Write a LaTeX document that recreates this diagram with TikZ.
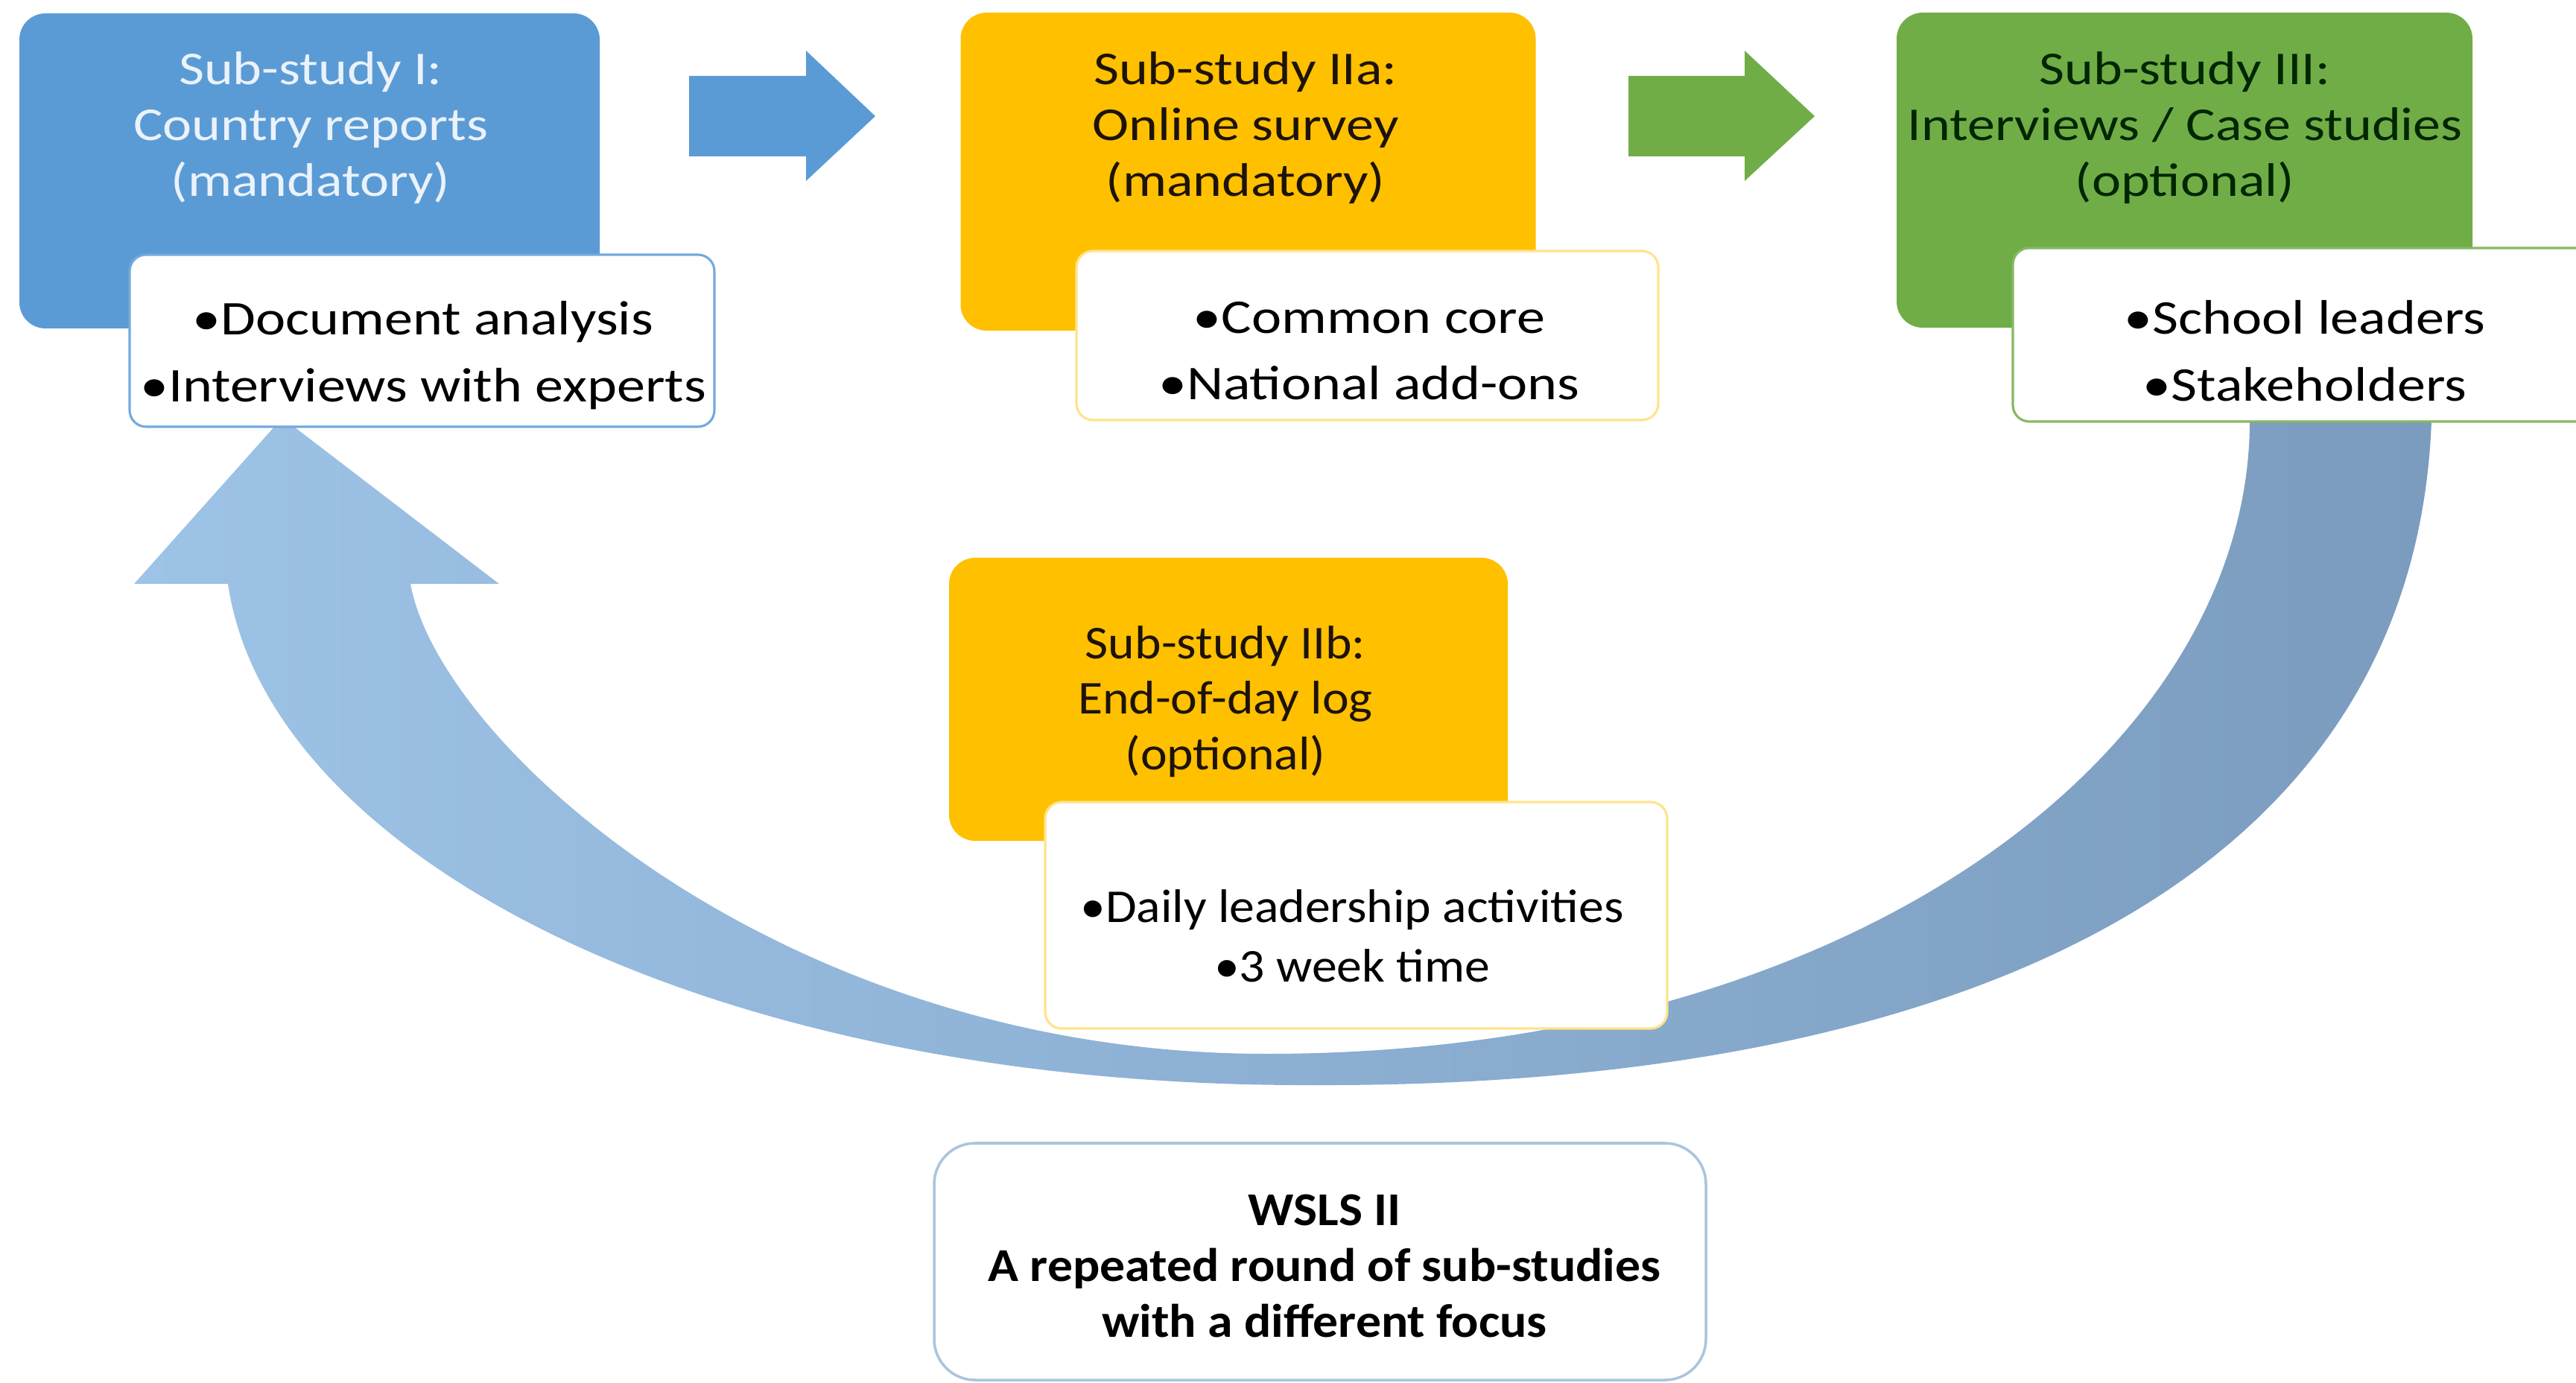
\documentclass[tikz,border=0pt]{standalone}
\usepackage{fontspec}
\setmainfont{Carlito}
\newfontfamily\widefont[FakeStretch=1.17]{Carlito}
\newfontfamily\semiwidefont[FakeStretch=1.07]{Carlito}
\usepackage{tikz}

\definecolor{studyblue}{HTML}{5B9BD5}
\definecolor{studyyellow}{HTML}{FFC000}
\definecolor{studygreen}{HTML}{70AD47}
\definecolor{looplight}{HTML}{9DC3E6}
\definecolor{loopdark}{HTML}{7B9CBF}
\definecolor{wslsline}{HTML}{A9C5DE}
\definecolor{titlewhite}{HTML}{EAF2FB}

\begin{document}
\begin{tikzpicture}[
    mainbox/.style={rounded corners=0.35cm, inner sep=0pt},
    listbox/.style={rounded corners=0.22cm, fill=white, line width=0.9pt, inner sep=0pt},
    titletext/.style={align=center, font=\widefont\fontsize{18}{21.3}\selectfont},
    listtext/.style={align=center, font=\widefont\fontsize{18.5}{25.5}\selectfont}
]

\useasboundingbox (0,0) rectangle (34.58,-18.57);
\clip (0,0) rectangle (34.58,-18.57);

% Loop arrow
\shade [left color=looplight, right color=loopdark]
    (3.79,-5.61) -- (6.70,-7.84) -- (5.51,-7.84)
    .. controls (5.9,-10.0) and (10.5,-14.15) .. (17.0,-14.15)
    .. controls (25,-14.15) and (30.2,-10) .. (30.20,-5.65)
    -- (32.64,-5.65)
    .. controls (32.4,-12.0) and (26,-14.6) .. (17.64,-14.57)
    .. controls (9.5,-14.6) and (3.6,-11.5) .. (3.06,-7.84)
    -- (1.80,-7.84) -- cycle;

% Arrows between sub-studies
\fill [studyblue] (9.25,-1.02) -- (10.82,-1.02) -- (10.82,-0.68) -- (11.75,-1.56)
    -- (10.82,-2.43) -- (10.82,-2.10) -- (9.25,-2.10) -- cycle;
\fill [studygreen] (21.86,-1.02) -- (23.42,-1.02) -- (23.42,-0.68) -- (24.36,-1.56)
    -- (23.42,-2.43) -- (23.42,-2.10) -- (21.86,-2.10) -- cycle;

% Sub-study I
\node [mainbox, fill=studyblue, minimum width=7.79cm, minimum height=4.23cm] (s1) at (4.155,-2.295) {};
\node [titletext, text=titlewhite] (s1title) at (4.17,-1.72) {Sub-study I:\\Country reports\\(mandatory)};
\node [listbox, draw=studyblue!85, minimum width=7.85cm, minimum height=2.31cm] (s1list) at (5.665,-4.575) {};
\node [listtext] (s1items) at (5.68,-4.77) {\textbullet Document analysis\\\textbullet Interviews with experts};

% Sub-study IIa
\node [mainbox, fill=studyyellow, minimum width=7.72cm, minimum height=4.27cm] (s2a) at (16.755,-2.305) {};
\node [titletext, text=black!85!brown] (s2atitle) at (16.72,-1.72) {Sub-study IIa:\\Online survey\\(mandatory)};
\node [listbox, draw=studyyellow!45, minimum width=7.81cm, minimum height=2.27cm] (s2alist) at (18.355,-4.505) {};
\node [listtext] (s2aitems) at (18.38,-4.71) {\textbullet Common core\\\textbullet National add-ons};

% Sub-study III
\node [mainbox, fill=studygreen, minimum width=7.73cm, minimum height=4.23cm] (s3) at (29.325,-2.285) {};
\node [titletext, text=black!85!green] (s3title) at (29.33,-1.72) {Sub-study III:\\Interviews / Case studies\\(optional)};
\node [listbox, draw=studygreen!85, minimum width=7.84cm, minimum height=2.33cm] (s3list) at (30.94,-4.495) {};
\node [listtext] (s3items) at (30.94,-4.71) {\textbullet School leaders\\\textbullet Stakeholders};

% Sub-study IIb
\node [mainbox, fill=studyyellow, minimum width=7.5cm, minimum height=3.8cm] (s2b) at (16.49,-9.39) {};
\node [align=center, text=black!85!brown, font=\semiwidefont\fontsize{18}{21.3}\selectfont] (s2btitle) at (16.45,-9.42) {Sub-study IIb:\\End-of-day log\\(optional)};
\node [listbox, draw=studyyellow!45, minimum width=8.35cm, minimum height=3.04cm] (s2blist) at (18.205,-12.29) {};
\node [align=center, font=\semiwidefont\fontsize{18}{22.7}\selectfont] (s2bitems) at (18.15,-12.57) {\textbullet Daily leadership activities\\\textbullet 3 week time};

% WSLS II
\node [rounded corners=0.55cm, draw=wslsline, line width=1pt, fill=white, minimum width=10.36cm, minimum height=3.18cm] (wsls) at (17.72,-16.94) {};
\node [align=center, font=\semiwidefont\bfseries\fontsize{18}{21.3}\selectfont] (wslstext) at (17.78,-17.0) {WSLS II\\A repeated round of sub-studies\\with a different focus};

\end{tikzpicture}
\end{document}
